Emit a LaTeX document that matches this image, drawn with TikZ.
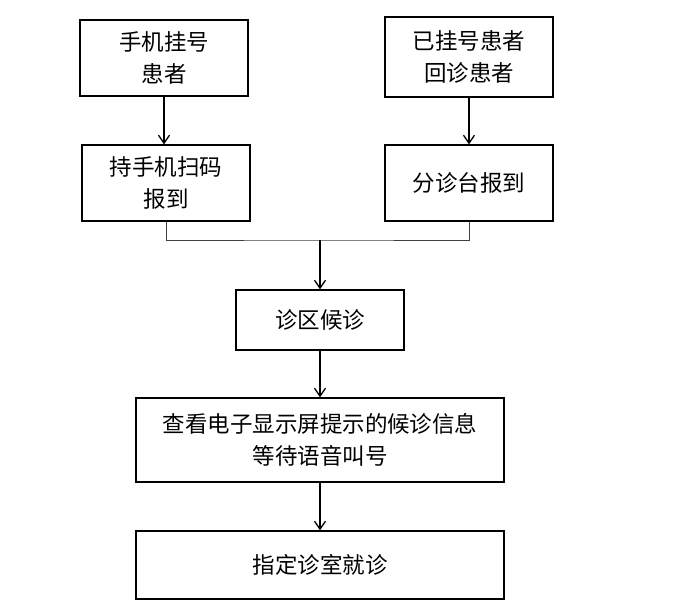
\documentclass[tikz,border=0pt]{standalone}
\usepackage{fontspec}
\setmainfont{Noto Sans CJK SC}
\usetikzlibrary{arrows.meta}
\begin{document}
\begin{tikzpicture}[x=1pt,y=-1pt,
  box/.style={draw=black,line width=1.3pt,align=center,inner sep=0pt,
    font=\fontsize{22.5}{32}\selectfont},
  arr/.style={line width=1.5pt,-{Straight Barb[length=8pt,width=11pt,line width=1.3pt]}},
  link/.style={line width=0.9pt,draw=black!75}]
\useasboundingbox (0,0) rectangle (686,602);
\node[box,minimum width=168pt,minimum height=76pt] (a) at (164,58) {手机挂号\\患者};
\node[box,minimum width=168pt,minimum height=76pt] (b) at (166,183) {持手机扫码\\报到};
\node[box,minimum width=168pt,minimum height=80pt] (c) at (469,57) {已挂号患者\\回诊患者};
\node[box,minimum width=168pt,minimum height=76pt] (d) at (469,183) {分诊台报到};
\node[box,minimum width=168pt,minimum height=60pt] (e) at (320,320) {诊区候诊};
\node[box,minimum width=368pt,minimum height=84pt] (f) at (320,440) {查看电子显示屏提示的候诊信息\\等待语音叫号};
\node[box,minimum width=368pt,minimum height=68pt] (g) at (320,565) {指定诊室就诊};
\coordinate (j) at (320,240);
\draw[arr] (a.south) -- (a.south |- b.north);
\draw[arr] (c.south) -- (c.south |- d.north);
\draw[link] (b.south) |- (j) -| (d.south);
\draw[arr] (j) -- (j |- e.north);
\draw[arr] (e.south) -- (e.south |- f.north);
\draw[arr] (f.south) -- (f.south |- g.north);
\end{tikzpicture}
\end{document}
